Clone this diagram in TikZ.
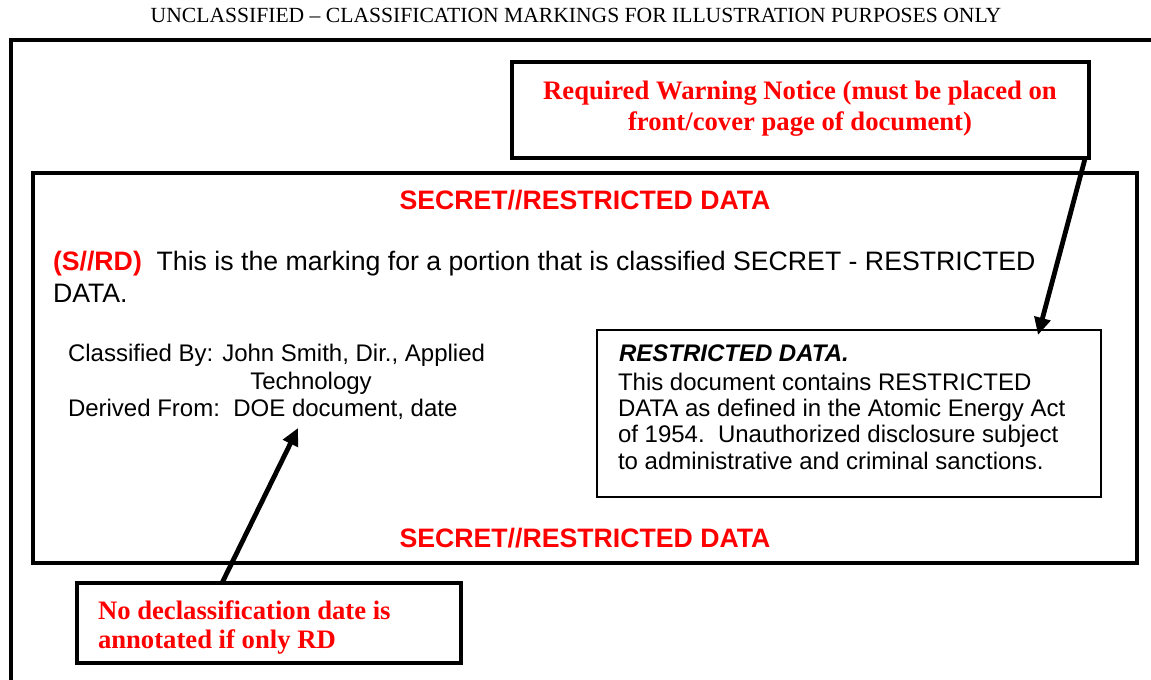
\documentclass[tikz,border=0pt]{standalone}
\usepackage{fontspec}
\setmainfont{Liberation Serif}
\setsansfont{Liberation Sans}
\usetikzlibrary{arrows.meta,fit,calc}
\definecolor{warnred}{RGB}{255,0,0}
\tikzset{
  frameline/.style={line width=3pt},
  boxthick/.style={draw, line width=2.6pt, inner sep=0pt},
  boxthin/.style={draw, line width=1.2pt, inner sep=0pt},
  txt/.style={inner sep=0pt, outer sep=0pt},
  pointer/.style={line width=3.6pt, -{Triangle[length=13pt,width=12pt]}},
  redserif/.style={txt, text=warnred, font=\fontsize{20}{24}\selectfont\bfseries},
  redsans/.style={txt, text=warnred, font=\sffamily\fontsize{20}{24}\selectfont\bfseries},
  bodytxt/.style={txt, font=\sffamily\fontsize{20}{24}\selectfont},
  classtxt/.style={txt, font=\sffamily\fontsize{18}{21}\selectfont},
  rdtxt/.style={txt, font=\sffamily\fontsize{18}{21}\selectfont},
}
\begin{document}
\begin{tikzpicture}[x=0.75pt,y=-0.75pt]
\useasboundingbox (0,0) rectangle (1151,680);
% header
\node[txt, anchor=base, font=\fontsize{16.2}{19}\selectfont] (hdr) at (576,23) {UNCLASSIFIED -- CLASSIFICATION MARKINGS FOR ILLUSTRATION PURPOSES ONLY};
% outer page frame
\draw[frameline] (11,682) -- (11,40) -- (1155,40);
% boxes
\node[boxthick, fit={(512,62)(1089,158)}] (warn) {};
\node[boxthick, line width=3pt, fit={(33,173)(1137,563)}] (main) {};
\node[boxthin, fit={(597,330)(1101,497)}] (rdbox) {};
\node[boxthick, line width=3pt, fit={(77,583)(461,663)}] (nodecl) {};
% warning text
\node[redserif, anchor=base] (w1) at (800,100) {Required Warning Notice (must be placed on};
\node[redserif, anchor=base] (w2) at (800,131) {front/cover page of document)};
% banners
\node[redsans, anchor=base] (bantop) at (585,210) {SECRET//RESTRICTED DATA};
\node[redsans, anchor=base] (banbot) at (585,547) {SECRET//RESTRICTED DATA};
% portion text
\node[bodytxt, anchor=base west] (p1) at (53,271) {\textcolor{warnred}{\bfseries (S//RD)}\ \ This is the marking for a portion that is classified SECRET - RESTRICTED};
\node[bodytxt, anchor=base west] (p2) at (53,303) {DATA.};
% classification block
\node[classtxt, anchor=base west] (c1) at (68,362) {Classified By: John Smith, Dir., Applied};
\node[classtxt, anchor=base] (c2) at (311,389) {Technology};
\node[classtxt, anchor=base west] (c3) at (68,416) {Derived From:\ \ DOE document, date};
% restricted data notice
\node[rdtxt, anchor=base west, font=\sffamily\fontsize{18}{21}\selectfont\bfseries\itshape] (r0) at (619,362) {RESTRICTED DATA.};
\node[rdtxt, anchor=base west] (r1) at (618,390) {This document contains RESTRICTED};
\node[rdtxt, anchor=base west] (r2) at (618,416) {DATA as defined in the Atomic Energy Act};
\node[rdtxt, anchor=base west] (r3) at (618,442) {of 1954.\ \ Unauthorized disclosure subject};
\node[rdtxt, anchor=base west] (r4) at (618,469) {to administrative and criminal sanctions.};
% bottom note
\node[redserif, anchor=base west] (n1) at (98,619) {No declassification date is};
\node[redserif, anchor=base west] (n2) at (98,648) {annotated if only RD};
% arrows
\coordinate (a1s) at ($(warn.south east)+(-6,0)$);
\coordinate (a1e) at (1038,335);
\coordinate (a2s) at (222,583);
\coordinate (a2e) at (298,428);
\draw[pointer] (a1s) -- (a1e);
\draw[pointer] (a2s) -- (a2e);
\end{tikzpicture}
\end{document}
